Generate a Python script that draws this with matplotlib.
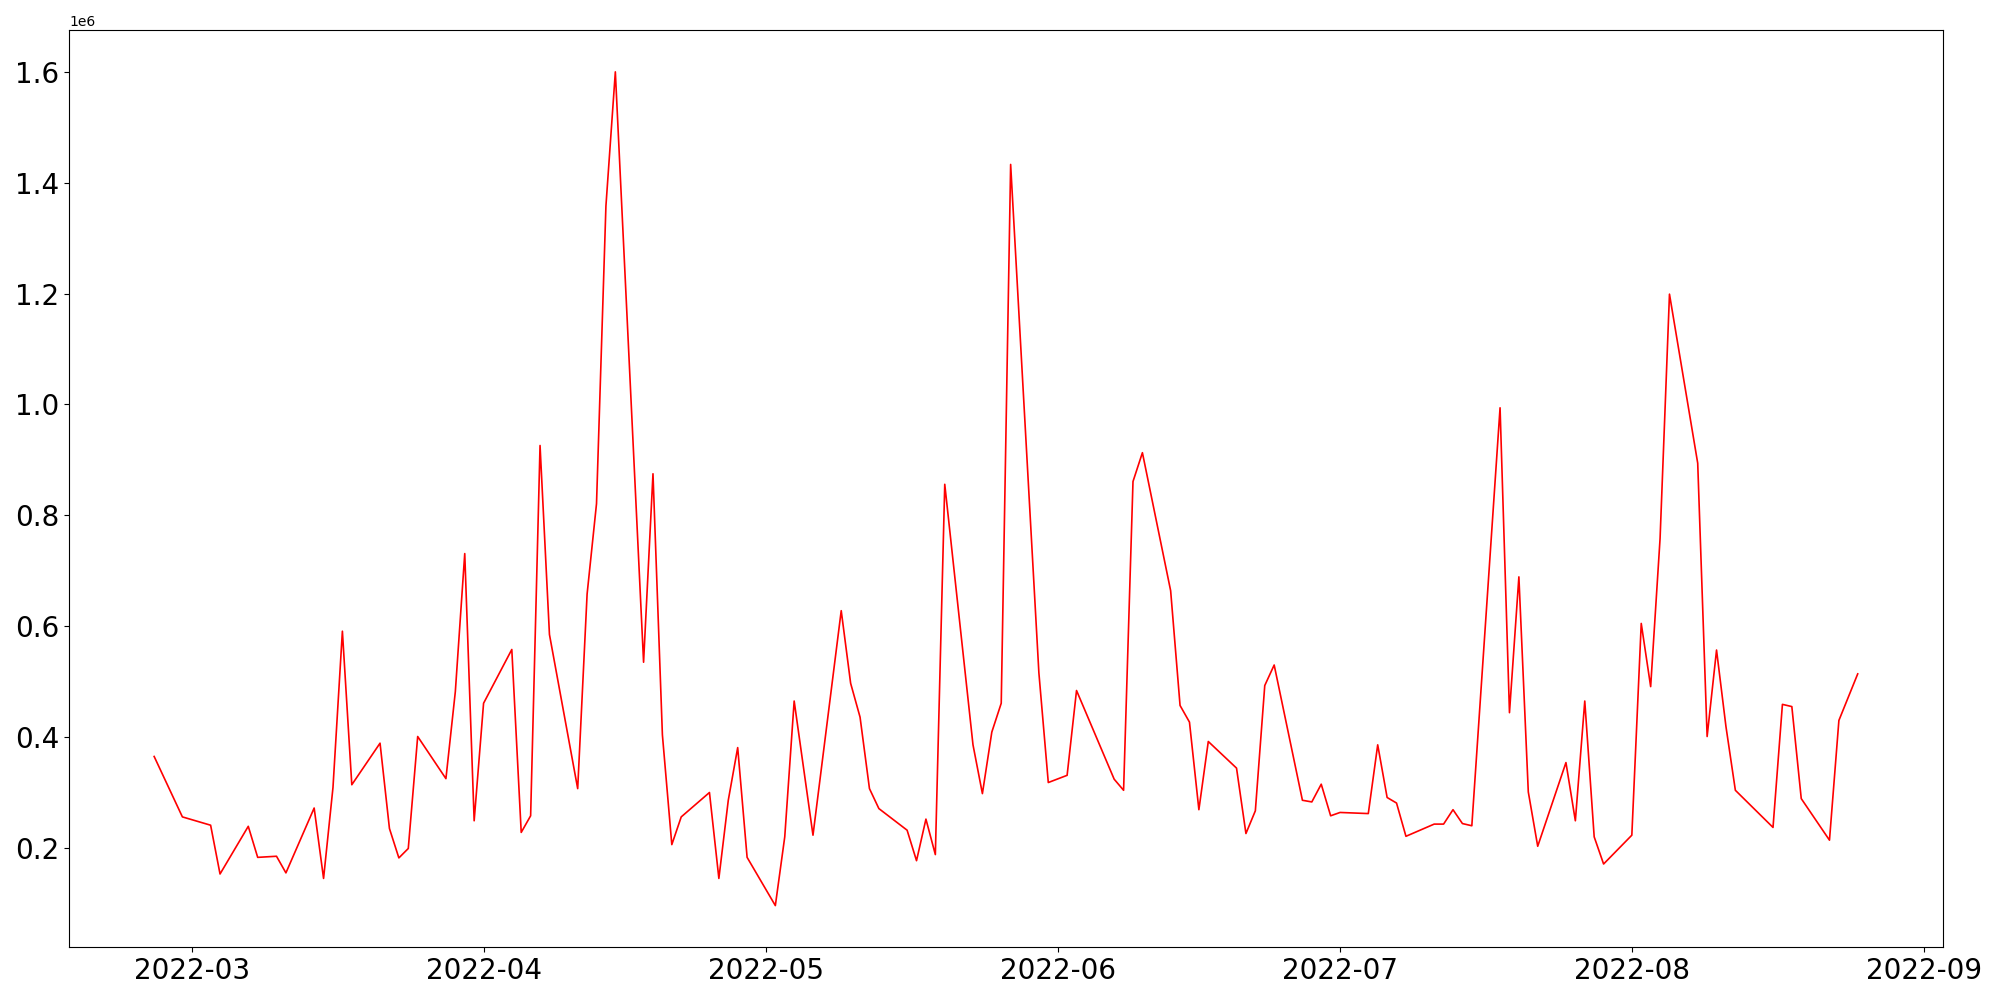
import pandas as pd
import matplotlib
matplotlib.use('Agg')
import matplotlib.pyplot as plt

# 日付 (営業日)
dates = [
    '2022-02-25', '2022-02-28', '2022-03-02', '2022-03-03', '2022-03-04',
    '2022-03-07', '2022-03-08', '2022-03-10', '2022-03-11',
    '2022-03-14', '2022-03-15', '2022-03-16', '2022-03-17', '2022-03-18',
    '2022-03-21', '2022-03-22', '2022-03-23', '2022-03-24', '2022-03-25',
    '2022-03-28', '2022-03-29', '2022-03-30', '2022-03-31', '2022-04-01',
    '2022-04-04', '2022-04-05', '2022-04-06', '2022-04-07', '2022-04-08',
    '2022-04-11', '2022-04-12', '2022-04-13', '2022-04-14', '2022-04-15',
    '2022-04-18', '2022-04-19', '2022-04-20', '2022-04-21', '2022-04-22',
    '2022-04-25', '2022-04-26', '2022-04-27', '2022-04-28', '2022-04-29',
    '2022-05-02', '2022-05-03', '2022-05-04', '2022-05-06',
    '2022-05-09', '2022-05-10', '2022-05-11', '2022-05-12', '2022-05-13',
    '2022-05-16', '2022-05-17', '2022-05-18', '2022-05-19', '2022-05-20',
    '2022-05-23', '2022-05-24', '2022-05-25', '2022-05-26', '2022-05-27',
    '2022-05-30', '2022-05-31', '2022-06-02', '2022-06-03',
    '2022-06-07', '2022-06-08', '2022-06-09', '2022-06-10',
    '2022-06-13', '2022-06-14', '2022-06-15', '2022-06-16', '2022-06-17',
    '2022-06-20', '2022-06-21', '2022-06-22', '2022-06-23', '2022-06-24',
    '2022-06-27', '2022-06-28', '2022-06-29', '2022-06-30', '2022-07-01',
    '2022-07-04', '2022-07-05', '2022-07-06', '2022-07-07', '2022-07-08',
    '2022-07-11', '2022-07-12', '2022-07-13', '2022-07-14', '2022-07-15',
    '2022-07-18', '2022-07-19', '2022-07-20', '2022-07-21', '2022-07-22',
    '2022-07-25', '2022-07-26', '2022-07-27', '2022-07-28', '2022-07-29',
    '2022-08-01', '2022-08-02', '2022-08-03', '2022-08-04', '2022-08-05',
    '2022-08-08', '2022-08-09', '2022-08-10', '2022-08-11', '2022-08-12',
    '2022-08-16', '2022-08-17', '2022-08-18', '2022-08-19',
    '2022-08-22', '2022-08-23', '2022-08-25',
]

# 値 (百万単位)
values_m = [
    0.365, 0.256, 0.246, 0.241, 0.153,
    0.239, 0.183, 0.185, 0.155,
    0.272, 0.145, 0.309, 0.591, 0.314,
    0.389, 0.235, 0.182, 0.199, 0.401,
    0.325, 0.482, 0.731, 0.249, 0.461,
    0.558, 0.228, 0.258, 0.926, 0.585,
    0.307, 0.658, 0.821, 1.358, 1.600,
    0.535, 0.875, 0.404, 0.206, 0.256,
    0.300, 0.145, 0.286, 0.381, 0.183,
    0.096, 0.220, 0.465, 0.223,
    0.628, 0.497, 0.436, 0.307, 0.271,
    0.232, 0.177, 0.252, 0.188, 0.856,
    0.386, 0.298, 0.409, 0.461, 1.433,
    0.516, 0.318, 0.331, 0.484,
    0.324, 0.304, 0.861, 0.913,
    0.664, 0.457, 0.427, 0.269, 0.392,
    0.344, 0.226, 0.267, 0.493, 0.530,
    0.286, 0.283, 0.315, 0.258, 0.264,
    0.262, 0.386, 0.291, 0.281, 0.221,
    0.243, 0.243, 0.269, 0.244, 0.240,
    0.994, 0.444, 0.689, 0.301, 0.203,
    0.354, 0.249, 0.465, 0.220, 0.171,
    0.223, 0.605, 0.491, 0.758, 1.199,
    0.894, 0.401, 0.557, 0.419, 0.304,
    0.237, 0.459, 0.455, 0.289,
    0.214, 0.430, 0.514,
]


def main():
    x = pd.to_datetime(dates)
    y = [v * 1e6 for v in values_m]

    plt.figure(figsize=(20, 10), dpi=100)
    plt.plot(x, y, color='red', linewidth=1.2)
    plt.xticks(fontsize=20)
    plt.yticks(fontsize=20)
    plt.tight_layout()
    plt.savefig('out.png')


if __name__ == '__main__':
    main()
